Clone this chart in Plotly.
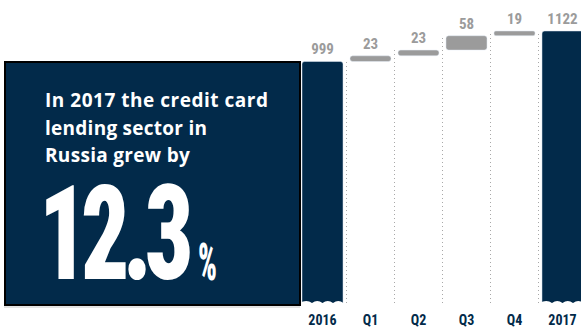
import plotly.graph_objects as go

# Credit card lending in Russia, bn RUB: 2016 total, quarterly increments of 2017, 2017 total
categories = ["2016", "Q1", "Q2", "Q3", "Q4", "2017"]
totals = [999, None, None, None, None, 1122]
increments = [None, 23, 23, 58, 19, None]
growth_pct = "12.3"

NAVY = "#022a4a"
GREY = "#9b9b9b"
W, H = 581, 327
PLOT_BOTTOM = 303  # px

xs = list(range(len(categories)))

# running level before/after each quarter
bases, tops = [], []
level = totals[0]
for inc in increments:
    if inc is None:
        bases.append(None)
        tops.append(level)
    else:
        bases.append(level)
        level += inc
        tops.append(level)
tops[-1] = totals[-1]

fig = go.Figure()

label_font = dict(family="Roboto Condensed", size=15, weight="bold", color=GREY)

# dark total bars
tot_x = [x for x, v in zip(xs, totals) if v is not None]
tot_y = [v for v in totals if v is not None]
fig.add_trace(go.Bar(
    x=tot_x, y=tot_y, width=0.855, marker=dict(color=NAVY, cornerradius=3),
    text=[str(v) for v in tot_y], textposition="outside", textfont=label_font,
    cliponaxis=False, hoverinfo="skip",
))

# grey quarterly increments
inc_x = [x for x, v in zip(xs, increments) if v is not None]
inc_y = [v for v in increments if v is not None]
inc_b = [b for b in bases if b is not None]
fig.add_trace(go.Bar(
    x=inc_x, y=inc_y, base=inc_b, width=0.855, marker=dict(color=GREY, cornerradius=3),
    text=[str(v) for v in inc_y], textposition="outside", textfont=label_font,
    cliponaxis=False, hoverinfo="skip",
))

# dotted separators between columns, reaching the level of the column on the right
y_low = 25
shapes = []
for i in range(1, len(categories)):
    top = totals[0] if i == 1 else tops[i]
    shapes.append(dict(type="line", xref="x", yref="y", x0=i - 0.5, x1=i - 0.5, y0=y_low, y1=top,
                       line=dict(color="#a8a8a8", width=1, dash="1px,3px"), layer="below"))

# scalloped cut at the foot of the total bars
for x in tot_x:
    path = "M -23,-4 L -23,0"
    step = 42 / 4
    xa = -21
    for k in range(4):
        xb = xa + step
        path += f" Q {xa + step / 2:.2f},4 {xb:.2f},0"
        xa = xb
    path += " L 23,0 L 23,-4 Z"
    shapes.append(dict(type="path", xref="x", yref="y", xsizemode="pixel", ysizemode="pixel",
                       xanchor=x, yanchor=y_low, path=path, fillcolor="white", line=dict(width=0)))


def py(p):
    """pixel row -> paper y"""
    return (PLOT_BOTTOM - p) / PLOT_BOTTOM


def px(p):
    return p / W


# headline panel
shapes.append(dict(type="line", xref="paper", yref="paper", x0=px(4), x1=px(300), y0=py(307), y1=py(307),
                   line=dict(color="#c8c8c8", width=1)))
shapes.append(dict(type="rect", xref="paper", yref="paper", x0=px(5), x1=px(300), y0=py(305), y1=py(62),
                   fillcolor=NAVY, line=dict(color="#000000", width=2)))

annotations = []
lines = ["In 2017 the credit card", "lending sector in", "Russia grew by"]
for j, t in enumerate(lines):
    annotations.append(dict(x=px(43), y=py(100 + 27.5 * j), xref="paper", yref="paper", xanchor="left",
                            yanchor="middle", showarrow=False, text=t,
                            font=dict(family="Open Sans", size=19, weight="bold", color="white")))
annotations.append(dict(x=px(37), y=py(234), xref="paper", yref="paper", xanchor="left", yanchor="middle",
                        showarrow=False, text=growth_pct,
                        font=dict(family="Roboto Condensed", size=131, weight=900, color="white")))
annotations.append(dict(x=px(196), y=py(262), xref="paper", yref="paper", xanchor="left", yanchor="middle",
                        showarrow=False, text="%",
                        font=dict(family="Roboto Condensed", size=52, weight=900, color="white")))

step_px = 48.0
c0 = 322.5
fig.update_layout(
    width=W, height=H, margin=dict(l=0, r=0, t=0, b=H - PLOT_BOTTOM),
    paper_bgcolor="white", plot_bgcolor="white", showlegend=False, bargap=0,
    shapes=shapes, annotations=annotations,
    xaxis=dict(range=[-c0 / step_px, (W - c0) / step_px], tickvals=xs, ticktext=categories,
               showgrid=False, zeroline=False, showline=False, ticks="", ticklabelstandoff=7,
               tickfont=dict(family="Roboto Condensed", size=14, weight="bold", color=NAVY)),
    yaxis=dict(range=[y_low, 1247], visible=False),
)

# headline lettering: tracking for the text lines, narrow figures for the percentage
post = """
var gd = document.getElementById('{plot_id}');
var spread = {'In 2017 the credit card': 223, 'lending sector in': 162, 'Russia grew by': 145};
var squeeze = {'12.3': [151, -9], '%': [19, 0]};
gd.querySelectorAll('g.annotation text.annotation-text').forEach(function (t) {
  var s = t.textContent;
  var b0 = t.getBBox();
  if (spread[s]) {
    var ls = (spread[s] - b0.width) / (s.length - 1);
    t.setAttribute('letter-spacing', ls + 'px');
    var b1 = t.getBBox();
    t.setAttribute('transform', 'translate(' + (b0.x - b1.x) + ',0)');
  } else if (squeeze[s]) {
    t.setAttribute('letter-spacing', squeeze[s][1] + 'px');
    var b1 = t.getBBox();
    var k = squeeze[s][0] / b1.width;
    t.setAttribute('transform', 'translate(' + b0.x + ',0) scale(' + k + ',1) translate(' + (-b1.x) + ',0)');
  }
});
"""
fig.write_html("out.html", post_script=post, config={"responsive": False, "staticPlot": True})
